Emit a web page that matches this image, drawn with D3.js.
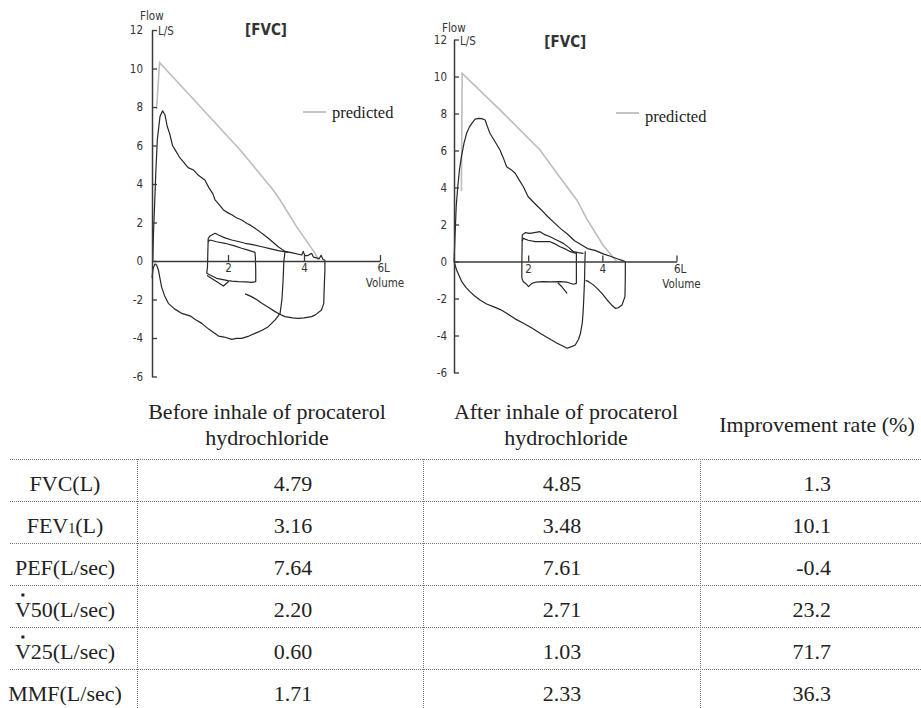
<!DOCTYPE html>
<html>
<head>
<meta charset="utf-8">
<script src="https://cdn.jsdelivr.net/npm/d3@7"></script>
<style>
  body { margin: 0; background: #fff; }
  svg { display: block; }
  .lbl { font-family: 'Liberation Sans Narrow', 'DejaVu Sans Condensed', sans-serif; fill: #333; }
  .tbl { font-family: 'Liberation Serif', 'Times New Roman', serif; font-size: 22px; fill: #222; }
</style>
</head>
<body>
<svg id="chart" width="921" height="708"></svg>
<script>
// axis ticks
const flowTicks = [-6, -4, -2, 0, 2, 4, 6, 8, 10, 12];
const volumeTicks = [2, 4, 6];

// ---- before inhalation: [volume L, flow L/s]
const beforePredicted = [[0.12, 7.9], [0.2, 10.3], [1.0, 8.6], [2.32, 5.77], [3.19, 3.69], [3.37, 3.17],
  [3.8, 1.8], [4.29, 0.4], [4.38, 0.05]];
const beforeExpiration = [[0.02, 0], [0.04, 1.5], [0.07, 3.0], [0.1, 4.6], [0.14, 6.3], [0.21, 7.5], [0.28, 7.8],
  [0.34, 7.6], [0.4, 7.0], [0.47, 6.58], [0.54, 6.0], [0.61, 5.77], [0.72, 5.4], [0.82, 5.16], [0.95, 4.85],
  [1.09, 4.73], [1.22, 4.45], [1.39, 4.21], [1.5, 3.8], [1.6, 3.5], [1.66, 3.17], [1.78, 2.9], [1.88, 2.65],
  [2.0, 2.5], [2.1, 2.4], [2.22, 2.25], [2.36, 2.13], [2.5, 1.95], [2.6, 1.85], [2.71, 1.7], [2.85, 1.5],
  [2.95, 1.35], [3.06, 1.18], [3.2, 0.95], [3.32, 0.74], [3.5, 0.5], [3.7, 0.42], [3.94, 0.31], [3.98, 0.5],
  [4.02, 0.28], [4.1, 0.28], [4.2, 0.4], [4.25, 0.2], [4.4, 0.12], [4.45, 0.3], [4.5, 0.08], [4.55, 0.05]];
const beforeTidalOuter = [[1.44, -0.64], [1.46, -0.3], [1.47, 0.5], [1.48, 1.18], [1.53, 1.3], [1.66, 1.44],
  [1.75, 1.35], [1.92, 1.2], [2.1, 1.09], [2.3, 1.0], [2.45, 0.92], [2.65, 0.85], [2.89, 0.74], [3.1, 0.64],
  [3.32, 0.54], [3.59, 0.45]];
const beforeTidalInner = [[1.47, 1.0], [1.53, 1.09], [1.7, 1.0], [1.92, 0.92], [2.15, 0.8], [2.36, 0.66],
  [2.55, 0.55], [2.71, 0.45], [2.72, 0.2], [2.73, -0.5], [2.73, -1.07], [2.62, -1.11], [2.45, -1.08],
  [2.27, -1.07], [2.1, -1.05], [2.0, -1.02], [1.7, -0.9], [1.44, -0.64]];
const beforeTidalDip = [[1.45, -0.75], [1.88, -1.3], [2.02, -1.05]];
const beforeInspiration = [[0.0, -0.88], [0.03, -0.38], [0.08, -0.15], [0.12, -0.21], [0.17, -0.47],
  [0.21, -0.9], [0.25, -1.33], [0.33, -1.8], [0.43, -2.2], [0.6, -2.5], [0.78, -2.72], [1.0, -2.85],
  [1.15, -3.05], [1.31, -3.24], [1.5, -3.55], [1.75, -3.9], [1.9, -3.95], [2.1, -4.07], [2.22, -4.02],
  [2.36, -4.02], [2.55, -3.9], [2.71, -3.76], [2.9, -3.6], [3.06, -3.41], [3.24, -3.06], [3.37, -2.72],
  [3.42, -2.0], [3.45, -1.0], [3.47, 0.0], [3.5, 0.48]];
const beforeInspiration2 = [[4.55, 0.05], [4.55, -0.5], [4.53, -1.5], [4.52, -2.2], [4.46, -2.55], [4.3, -2.8],
  [4.2, -2.89], [4.0, -2.95], [3.85, -2.98], [3.7, -2.95], [3.5, -2.89], [3.35, -2.75], [3.24, -2.63],
  [3.06, -2.4], [2.89, -2.2], [2.75, -2.0], [2.62, -1.85], [2.45, -1.71]];

// ---- after inhalation
const afterPredicted = [[0.2, 3.8], [0.22, 10.17], [1.24, 8.2], [2.32, 6.03], [2.8, 4.7], [3.32, 3.3],
  [3.58, 2.3], [4.03, 0.85], [4.3, 0.2], [4.38, 0.02]];
const afterExpiration = [[0.0, 0], [0.02, 1.0], [0.04, 2.0], [0.06, 3.0], [0.1, 4.0], [0.15, 5.0], [0.2, 5.66],
  [0.27, 6.4], [0.34, 6.93], [0.41, 7.25], [0.48, 7.47], [0.57, 7.7], [0.66, 7.74], [0.75, 7.72], [0.84, 7.65],
  [0.9, 7.3], [0.97, 6.93], [1.1, 6.5], [1.24, 6.03], [1.33, 5.6], [1.42, 5.12], [1.55, 4.95], [1.65, 4.77],
  [1.76, 4.4], [1.87, 4.04], [2.0, 3.5], [2.17, 3.15], [2.35, 2.8], [2.53, 2.42], [2.7, 2.1], [2.89, 1.75],
  [3.05, 1.5], [3.25, 1.12], [3.4, 0.95], [3.6, 0.7], [3.8, 0.6], [4.04, 0.4], [4.2, 0.3], [4.4, 0.15],
  [4.55, 0.05], [4.62, 0.0]];
const afterTidalOuter = [[1.83, -0.91], [1.83, 0], [1.84, 1.43], [1.92, 1.56], [2.05, 1.52], [2.32, 1.61],
  [2.45, 1.45], [2.59, 1.34], [2.78, 1.15], [2.95, 0.98], [3.1, 0.75], [3.22, 0.53], [3.35, 0.48], [3.49, 0.44]];
const afterTidalInner = [[1.84, 1.1], [1.87, 1.25], [2.0, 1.15], [2.19, 1.07], [2.4, 1.07], [2.59, 1.07],
  [2.73, 0.95], [2.86, 0.8], [3.0, 0.68], [3.14, 0.53], [3.3, 0.44], [3.3, 0], [3.3, -1.18], [3.22, -1.23],
  [3.05, -1.12], [2.86, -1.09], [2.6, -1.1], [2.41, -1.09], [2.2, -1.12], [2.1, -1.18], [2.01, -1.36],
  [1.94, -1.2], [1.87, -1.09], [1.83, -0.91]];
const afterTidalTail = [[2.8, -1.15], [2.9, -1.35], [3.05, -1.72]];
const afterInspiration = [[0.0, 0], [0.07, -0.46], [0.21, -1.09], [0.32, -1.4], [0.43, -1.63], [0.55, -1.85],
  [0.7, -2.08], [0.88, -2.3], [1.06, -2.44], [1.25, -2.6], [1.42, -2.8], [1.65, -3.1], [1.87, -3.34],
  [2.1, -3.6], [2.32, -3.88], [2.55, -4.15], [2.78, -4.42], [2.92, -4.55], [3.05, -4.69], [3.17, -4.6],
  [3.27, -4.51], [3.36, -4.2], [3.41, -3.88], [3.46, -3.3], [3.48, -2.8], [3.5, -2.0], [3.52, -1.0],
  [3.53, 0], [3.54, 0.55]];
const afterInspiration2 = [[4.62, 0], [4.62, -0.8], [4.61, -1.9], [4.53, -2.35], [4.43, -2.5], [4.35, -2.53],
  [4.25, -2.35], [4.13, -2.08], [4.0, -1.75], [3.86, -1.45], [3.75, -1.25], [3.63, -1.09], [3.55, -1.02]];

// ---- table
const rowLabels = ['FVC(L)', 'FEV1(L)', 'PEF(L/sec)', 'V50(L/sec)', 'V25(L/sec)', 'MMF(L/sec)'];
const beforeValues = [4.79, 3.16, 7.64, 2.20, 0.60, 1.71];
const afterValues = [4.85, 3.48, 7.61, 2.71, 1.03, 2.33];
const improvement = [1.3, 10.1, -0.4, 23.2, 71.7, 36.3];
const headBefore = ['Before inhale of procaterol', 'hydrochloride'];
const headAfter = ['After inhale of procaterol', 'hydrochloride'];
const headRate = 'Improvement rate (%)';

const SERIF = "'Liberation Serif', 'Times New Roman', serif";
const svg = d3.select('#chart');
const line = d3.line();

const drawPanel = (cfg) => {
  const x = d3.scaleLinear().domain([0, 6]).range([cfg.x0, cfg.x6]);
  const y = d3.scaleLinear().domain([-6, 12]).range([cfg.yBottom, cfg.yTop]);
  const g = svg.append('g').attr('class', 'panel');
  line.x(d => x(d[0])).y(d => y(d[1]));

  // predicted (grey)
  g.append('path').datum(cfg.predicted)
    .attr('d', line).attr('fill', 'none')
    .attr('stroke', '#bdbdbd').attr('stroke-width', 1.6);

  // measured traces
  g.selectAll('.trace').data(cfg.traces).enter()
    .append('path')
      .attr('class', 'trace')
      .attr('d', line)
      .attr('fill', 'none')
      .attr('stroke', '#262626')
      .attr('stroke-width', 1.2)
      .attr('stroke-linejoin', 'round');

  const yAxis = g.append('g')
    .attr('transform', `translate(${x(0)},0)`)
    .call(d3.axisLeft(y).tickValues(flowTicks).tickFormat(d => String(d))
      .tickSizeInner(-5).tickSizeOuter(0).tickPadding(cfg.pad));
  const xAxis = g.append('g')
    .attr('transform', `translate(0,${y(0)})`)
    .call(d3.axisBottom(x).tickValues(volumeTicks).tickFormat(d => d === 6 ? '6L' : d)
      .tickSizeInner(-6).tickSizeOuter(0).tickPadding(3));
  xAxis.selectAll('.tick').filter(d => d === 6).select('text')
    .attr('text-anchor', 'start').attr('dx', -3);

  [yAxis, xAxis].forEach(a => {
    a.select('.domain').attr('stroke', '#3a3a3a').attr('stroke-width', 1.5);
    a.selectAll('.tick line').attr('stroke', '#3a3a3a').attr('stroke-width', 1.3);
    a.selectAll('.tick text').attr('class', 'lbl').attr('font-size', 11.5).attr('fill', '#333');
    a.attr('font-family', null);
  });

  g.append('text').attr('class', 'lbl').attr('font-size', 11.5)
    .attr('x', x(0) - 12).attr('y', y(12) - cfg.flowOff).text('Flow');
  g.append('text').attr('class', 'lbl').attr('font-size', 11.5)
    .attr('x', x(0) + 6).attr('y', y(12) + 5).text('L/S');
  g.append('text').attr('class', 'lbl').attr('font-size', 11.5)
    .attr('text-anchor', 'middle')
    .attr('x', x(6) + 5).attr('y', y(0) + 26).text('Volume');
  g.append('text').attr('class', 'lbl').attr('font-size', 15).attr('font-weight', 'bold')
    .attr('text-anchor', 'middle')
    .attr('x', x(3)).attr('y', y(12) + cfg.titleOff).text('[FVC]');

  // legend
  g.append('line')
    .attr('x1', cfg.legend[0]).attr('x2', cfg.legend[0] + 23)
    .attr('y1', cfg.legend[1]).attr('y2', cfg.legend[1])
    .attr('stroke', '#c4c4c4').attr('stroke-width', 2);
  g.append('text')
    .attr('x', cfg.legend[0] + 29).attr('y', cfg.legend[2])
    .attr('font-family', SERIF).attr('font-size', 16.5).attr('fill', '#222')
    .text('predicted');
};

drawPanel({
  x0: 152, x6: 380, yBottom: 376.5, yTop: 30, pad: 9, flowOff: 10, titleOff: 5,
  legend: [303, 112, 118],
  predicted: beforePredicted,
  traces: [beforeExpiration, beforeTidalOuter, beforeTidalInner, beforeTidalDip, beforeInspiration, beforeInspiration2]
});
drawPanel({
  x0: 454, x6: 676.5, yBottom: 372.5, yTop: 39.5, pad: 7, flowOff: 8, titleOff: 7,
  legend: [616, 113, 122],
  predicted: afterPredicted,
  traces: [afterExpiration, afterTidalOuter, afterTidalInner, afterTidalTail, afterInspiration, afterInspiration2]
});

// ---- table
const table = svg.append('g').attr('class', 'table')
  .attr('font-family', SERIF).attr('font-size', 22).attr('fill', '#222');
const rows = d3.scaleBand().domain(rowLabels).range([459, 459 + rowLabels.length * 42]);
const colEdges = [137, 423, 700];

const heads = [[headBefore, 267], [headAfter, 566]];
heads.forEach(([lines, cx]) => {
  table.selectAll(null).data(lines).enter()
    .append('text').attr('class', 'tbl')
    .attr('text-anchor', 'middle')
    .attr('x', cx).attr('y', (d, i) => 419 + i * 26)
    .text(d => d);
});
table.append('text').attr('class', 'tbl')
  .attr('text-anchor', 'middle').attr('x', 817).attr('y', 432).text(headRate);

const hLines = [...rowLabels.map(r => rows(r)), rows.range()[1]];
table.selectAll('.hline').data(hLines).enter()
  .append('line').attr('class', 'hline')
  .attr('x1', 10).attr('x2', 921).attr('y1', d => d + 0.5).attr('y2', d => d + 0.5)
  .attr('stroke', '#777').attr('stroke-dasharray', '1 1');
table.selectAll('.vline').data(colEdges).enter()
  .append('line').attr('class', 'vline')
  .attr('x1', d => d + 0.5).attr('x2', d => d + 0.5).attr('y1', 459).attr('y2', 708)
  .attr('stroke', '#777').attr('stroke-dasharray', '1 1');

const labels = table.selectAll('.rowlabel').data(rowLabels).enter()
  .append('text').attr('class', 'tbl rowlabel')
  .attr('text-anchor', 'middle').attr('x', 65).attr('y', d => rows(d) + 32);
labels.each(function (d) {
  const t = d3.select(this);
  if (d.startsWith('FEV1')) {
    t.append('tspan').text('FEV');
    t.append('tspan').attr('font-size', 14).text('1');
    t.append('tspan').text(d.slice(4));
  } else {
    t.text(d);
  }
  if (d.startsWith('V')) {
    const bb = this.getBBox();
    table.append('rect')
      .attr('x', bb.x + 6.5).attr('y', rows(d) + 8.5)
      .attr('width', 3).attr('height', 3).attr('fill', '#222');
  }
});

table.selectAll('.before').data(beforeValues).enter()
  .append('text').attr('class', 'tbl before').attr('text-anchor', 'middle')
  .attr('x', 293).attr('y', (d, i) => rows(rowLabels[i]) + 32).text(d => d.toFixed(2));
table.selectAll('.after').data(afterValues).enter()
  .append('text').attr('class', 'tbl after').attr('text-anchor', 'middle')
  .attr('x', 562).attr('y', (d, i) => rows(rowLabels[i]) + 32).text(d => d.toFixed(2));
table.selectAll('.rate').data(improvement).enter()
  .append('text').attr('class', 'tbl rate').attr('text-anchor', 'end')
  .attr('x', 831).attr('y', (d, i) => rows(rowLabels[i]) + 32).text(d => d.toFixed(1));
</script>
</body>
</html>
